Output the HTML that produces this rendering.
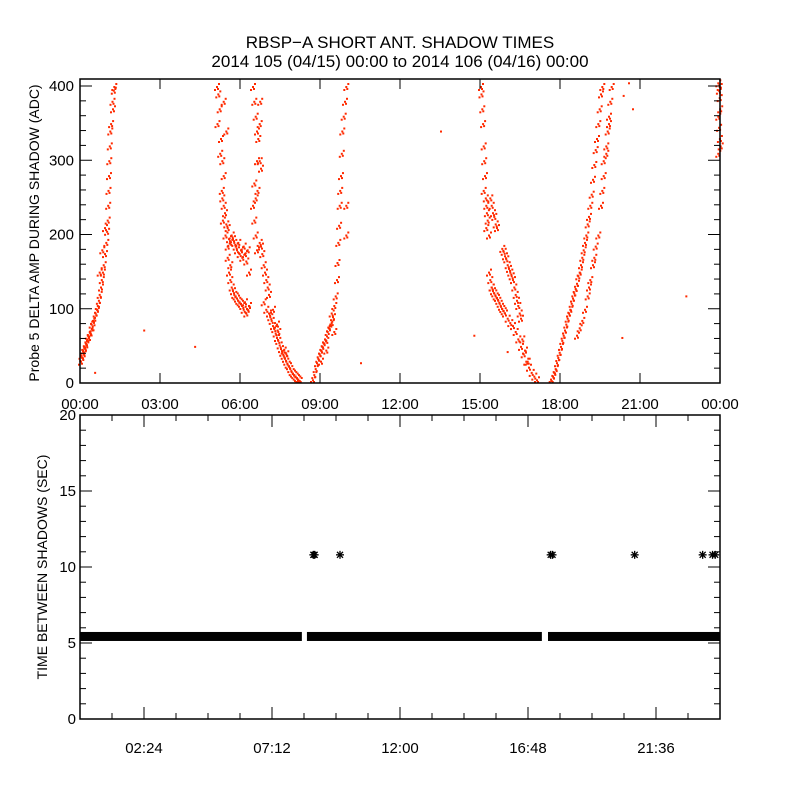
<!DOCTYPE html>
<html><head><meta charset="utf-8"><style>
body{margin:0;background:#fff}
svg text{font-family:"Liberation Sans",sans-serif;fill:#000}
</style></head><body>
<svg id="c" width="800" height="800" xmlns="http://www.w3.org/2000/svg">
<rect width="800" height="800" fill="#fff"/>
<text x="400" y="48" font-size="17" text-anchor="middle">RBSP−A SHORT ANT. SHADOW TIMES</text>
<text x="400" y="67" font-size="17" text-anchor="middle">2014 105 (04/15) 00:00 to 2014 106 (04/16) 00:00</text>
<text transform="translate(39,233) rotate(-90)" font-size="14" text-anchor="middle">Probe 5 DELTA AMP DURING SHADOW (ADC)</text>
<text transform="translate(47,567) rotate(-90)" font-size="14" text-anchor="middle">TIME BETWEEN SHADOWS (SEC)</text>
<g id="topg"></g>
<g id="botg"></g>
</svg>
<script>
// Top plot data (hours, ADC)
const b1H=[0,0.02,0.05,0.08,0.1,0.12,0.15,0.18,0.2,0.24,0.26,0.3,0.33,0.36,0.4,0.43,0.45,0.5,0.55,0.6,0.63,0.67,0.7,0.75,0.78,0.82,0.85,0.9,0.95,0.98,1.0,1.02,1.03,1.05,1.06,1.08,1.1,1.13,1.18,1.2,1.23,1.25,0.7,0.8,0.9];
const b1V=[30,38,35,45,40,50,48,55,52,60,65,62,70,68,80,75,85,88,95,100,105,112,120,130,140,150,160,175,190,205,220,240,260,280,300,320,340,350,380,370,395,400,150,180,210];
const b2H=[5.1,5.15,5.2,5.12,5.25,5.3,5.22,5.35,5.28,5.3,5.35,5.4,5.32,5.45,5.5,5.42,5.55,5.6,5.5,5.65,5.7,5.75,5.8,5.85,5.9,5.95,6.0,6.05,6.1,6.15,6.2,5.35,5.45];
const b2V=[400,390,370,350,330,300,310,280,260,250,240,230,220,215,210,200,195,190,185,200,195,190,185,180,190,175,180,170,185,175,165,380,340];
const b2bH=[5.55,5.6,5.65,5.7,5.75,5.8,5.85,5.9,5.95,6.0,6.05,6.1,6.15,6.2,6.25,6.3,5.5,5.6,6.3,6.25];
const b2bV=[150,140,130,125,120,118,115,112,110,108,105,100,110,95,100,105,170,160,150,180];
const b3H=[6.45,6.5,6.55,6.6,6.65,6.7,6.75,6.5,6.55,6.6,6.7,6.72,6.5,6.55,6.45,6.6,6.7,6.62];
const b3V=[400,380,360,340,330,300,290,270,250,300,350,380,220,200,240,180,190,260];
const b4H=[6.75,6.8,6.85,6.9,6.95,7.0,6.85,6.95,7.05,7.1,7.15,7.2,7.25,7.3,7.35,7.4,7.45,7.5,7.55,7.6,7.65,7.7,7.75,7.8,7.85,7.9,7.95,8.0,8.05,8.1,8.15,8.2,7.2,7.4,7.6,7.05,7.35,7.7];
const b4V=[185,175,160,150,140,130,110,100,95,90,85,78,74,68,62,58,52,47,42,38,34,30,26,24,20,16,14,12,10,8,6,4,100,70,45,120,80,40];
const b5H=[8.7,8.75,8.8,8.85,8.9,8.95,9.0,9.05,9.1,9.15,9.2,9.25,9.3,9.35,9.4,9.45,9.5,9.55,9.6,9.62,9.65,9.68,9.7,9.72,9.75,9.78,9.8,9.85,9.9,9.95,9.4,9.5,9.95,9.95,9.0,9.2];
const b5V=[5,12,20,28,34,40,45,50,55,60,58,70,75,80,82,90,105,118,140,163,190,213,240,260,280,310,340,360,380,400,95,70,200,240,30,45];
const b6H=[15.0,15.02,15.05,15.08,15.1,15.12,15.15,15.1,15.18,15.2,15.22,15.25,15.2,15.3,15.35,15.4,15.45,15.5,15.55,15.6,15.3,15.35,15.4];
const b6V=[400,390,370,350,320,300,280,260,250,240,230,220,210,200,250,240,230,225,215,210,150,140,130];
const b6bH=[15.8,15.85,15.9,15.95,16.0,16.05,16.1,16.15,16.2,16.25,16.3,16.35,16.4,16.45,16.5];
const b6bV=[182,178,172,168,160,155,150,145,140,130,120,112,105,95,88];
const b6cH=[15.4,15.45,15.5,15.55,15.6,15.65,15.7,15.75,15.8,15.85,15.9,16.0,16.1,16.2,16.3,16.4,16.5,16.6,16.7,16.8,16.9,17.0,17.1,16.55,16.65,16.75];
const b6cV=[130,125,122,118,116,112,108,104,101,98,95,88,82,78,70,60,50,40,30,22,15,10,5,60,45,30];
const b7H=[17.65,17.7,17.75,17.8,17.85,17.9,17.95,18.0,18.05,18.1,18.15,18.2,18.25,18.3,18.35,18.4,18.45,18.5,18.55,18.6,18.65,18.7,18.75,18.8,18.85,18.9,18.95,19.0,19.05,19.1,19.15,19.2,19.25,19.3,19.35,19.4,19.45,19.5,19.55];
const b7V=[4,10,15,20,28,35,42,50,58,65,72,80,88,95,100,108,115,122,128,135,145,150,160,170,180,190,200,215,225,240,255,275,295,315,330,350,370,390,400];
const b7bH=[18.6,18.7,18.8,18.9,19.0,19.05,19.1,19.2,19.25,19.3,19.4,19.5,19.55,19.6,19.7,19.75,19.8,19.85,19.9,19.6,19.7,19.8];
const b7bV=[65,75,85,100,118,130,140,160,170,185,200,240,260,280,320,340,360,380,400,300,310,350];
const b8H=[23.9,23.92,23.95,23.97,23.9,23.93,23.96,23.99,23.9,23.95];
const b8V=[405,395,385,370,360,345,330,320,310,400];
const isoH=[0.53,2.37,4.28,10.5,13.5,14.75,16.0,20.3,20.35,20.55,20.7,22.7];
const isoV=[15,72,50,28,340,65,43,62,388,405,370,118];
const topXTicks=["00:00","03:00","06:00","09:00","12:00","15:00","18:00","21:00","00:00"];
const topYTicks=[0,100,200,300,400];
// Bottom plot data
const bandStart=[0,8.51,17.55];
const bandEnd=[8.32,17.32,24.0];
const bandValue=[5.43,5.43,5.43];
const starH=[8.75,8.8,9.75,17.65,17.72,20.8,23.35,23.72,23.82];
const starV=[10.8,10.8,10.8,10.8,10.8,10.8,10.8,10.8,10.8];
const botXTicks=["02:24","07:12","12:00","16:48","21:36"];
const botYTicks=[0,5,10,15,20];

const NS="http://www.w3.org/2000/svg";
const L=80,R=720,T1=79,B1=383,T2=415,B2=719;
const xs=h=>L+(R-L)*h/24;
const y1=v=>B1-v*0.7425;
const y2=v=>B2-v*(B2-T2)/20;
function mk(tag,attrs,parent){const e=document.createElementNS(NS,tag);for(const k in attrs)e.setAttribute(k,attrs[k]);parent.appendChild(e);return e;}
const topG=document.getElementById('topg'),botG=document.getElementById('botg');

// top points
const branches=[[b1H,b1V],[b2H,b2V],[b2bH,b2bV],[b3H,b3V],[b4H,b4V],[b5H,b5V],[b6H,b6V],[b6bH,b6bV],[b6cH,b6cV],[b7H,b7V],[b7bH,b7bV],[b8H,b8V]];
const pts=mk('g',{},topG);


const offs=[[0,0],[2,-3],[-2,3],[1,2]];
branches.forEach(([H,V])=>{
  for(let i=0;i<H.length;i++){
    const cx=xs(H[i]),cy=Math.max(y1(V[i]),T1+2);
    offs.forEach(o=>{
      const r=mk('rect',{x:(cx+o[0]).toFixed(1),y:Math.min(cy+o[1],B1-2).toFixed(1),width:2,height:2,fill:'#ff2a00'},pts);
      
      
    });
  }
});
for(let i=0;i<isoH.length;i++){
  const r=mk('rect',{x:xs(isoH[i]),y:Math.max(y1(isoV[i]),T1+2),width:2,height:2,fill:'#ff2a00'},pts);
  
  
}
// top frame and ticks
const f1=mk('rect',{x:L,y:T1,width:R-L,height:B1-T1,fill:'none',stroke:'#000','stroke-width':1.5},topG);


topXTicks.forEach((t,i)=>{
  const x=xs(i*3);
  mk('line',{x1:x,x2:x,y1:B1,y2:B1-10,stroke:'#000'},topG);
  mk('line',{x1:x,x2:x,y1:T1,y2:T1+10,stroke:'#000'},topG);
  const tx=mk('text',{x:x,y:409,'font-size':15,'text-anchor':'middle'},topG);tx.textContent=t;
  
  
});
for(let v=0;v<=400;v+=20){
  const y=y1(v),len=(v%100===0)?12:6;
  mk('line',{x1:L,x2:L+len,y1:y,y2:y,stroke:'#000'},topG);
  mk('line',{x1:R,x2:R-len,y1:y,y2:y,stroke:'#000'},topG);
}
topYTicks.forEach(v=>{
  const tx=mk('text',{x:74,y:y1(v)+5,'font-size':15,'text-anchor':'end'},topG);tx.textContent=v;
  
  
});

// bottom band
for(let i=0;i<bandStart.length;i++){
  const r=mk('rect',{x:xs(bandStart[i]),y:y2(bandValue[i])-4.5,width:xs(bandEnd[i])-xs(bandStart[i]),height:9,fill:'#000'},botG);
  
  
}
for(let i=0;i<starH.length;i++){
  const cx=xs(starH[i]),cy=y2(starV[i]);
  const g=mk('g',{stroke:'#000','stroke-width':1.3},botG);
  
  
  mk('line',{x1:cx-4,x2:cx+4,y1:cy,y2:cy},g);
  mk('line',{x1:cx,x2:cx,y1:cy-4,y2:cy+4},g);
  mk('line',{x1:cx-3,x2:cx+3,y1:cy-3,y2:cy+3},g);
  mk('line',{x1:cx-3,x2:cx+3,y1:cy+3,y2:cy-3},g);
}
const f2=mk('rect',{x:L,y:T2,width:R-L,height:B2-T2,fill:'none',stroke:'#000','stroke-width':1.5},botG);


for(let k=1;k<20;k++){
  const h=k*1.2,x=xs(h),maj=(k%4===2),len=maj?12:6;
  mk('line',{x1:x,x2:x,y1:B2,y2:B2-len,stroke:'#000'},botG);
  mk('line',{x1:x,x2:x,y1:T2,y2:T2+len,stroke:'#000'},botG);
}
botXTicks.forEach((t,i)=>{
  const tx=mk('text',{x:xs(2.4+i*4.8),y:753,'font-size':15,'text-anchor':'middle'},botG);tx.textContent=t;
  
  
});
for(let v=0;v<=20;v++){
  const y=y2(v),len=(v%5===0)?12:6;
  mk('line',{x1:L,x2:L+len,y1:y,y2:y,stroke:'#000'},botG);
  mk('line',{x1:R,x2:R-len,y1:y,y2:y,stroke:'#000'},botG);
}
botYTicks.forEach(v=>{
  const tx=mk('text',{x:76,y:y2(v)+5,'font-size':15,'text-anchor':'end'},botG);tx.textContent=v;
  
  
});
</script>
</body></html>
